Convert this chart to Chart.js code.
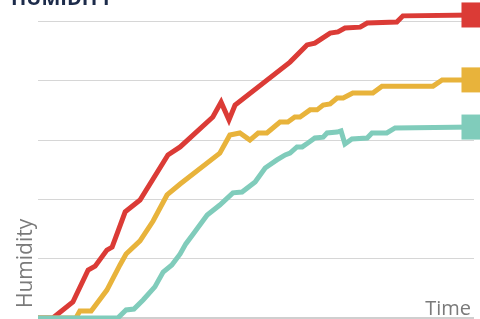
<!DOCTYPE html>
<html>
<head>
<meta charset="utf-8">
<script src="https://cdn.jsdelivr.net/npm/chart.js@4"></script>
<style>
  html, body { margin: 0; padding: 0; background: #fff; }
  #wrap { width: 480px; height: 319px; position: relative; }
</style>
</head>
<body>
<div id="wrap"><canvas id="humidity-chart"></canvas></div>
<script>
// time and humidity readings for each series
const redTime = [0, 3.4, 8.0, 11.5, 13.1, 15.8, 17.0, 20.0, 23.4, 29.8, 32.6, 40.1, 42.0, 43.8, 45.2, 57.8, 61.7, 63.5, 67.0, 68.8, 70.4, 73.9, 75.5, 82.3, 83.7, 100];
const redValues = [0, 0, 5.4, 16.2, 17.5, 22.9, 23.9, 35.8, 39.8, 55.0, 57.7, 67.8, 72.8, 66.8, 71.8, 86.3, 92.1, 92.7, 96.1, 96.5, 97.8, 98.1, 99.5, 99.8, 101.9, 102.2];

const yellowTime = [0, 8.7, 9.6, 12.2, 15.8, 18.8, 20.2, 23.4, 26.4, 29.6, 32.6, 41.7, 44.0, 46.3, 48.6, 50.5, 52.5, 55.5, 57.3, 58.9, 60.1, 62.4, 64.0, 65.4, 67.0, 68.6, 70.0, 72.2, 76.8, 78.9, 90.6, 92.7, 100];
const yellowValues = [0, 0, 2.4, 2.4, 9.4, 17.9, 21.6, 26.0, 32.7, 41.5, 45.2, 55.6, 61.7, 62.4, 60.0, 62.4, 62.4, 66.1, 66.1, 67.8, 67.8, 70.2, 70.2, 71.8, 72.2, 74.2, 74.2, 75.9, 75.9, 78.2, 78.2, 80.3, 80.3];

const tealTime = [0, 18.3, 20.2, 22.0, 24.1, 26.8, 28.7, 30.7, 32.6, 33.9, 35.6, 38.8, 41.7, 44.7, 46.8, 49.8, 52.1, 54.8, 56.7, 57.8, 59.4, 60.6, 61.9, 63.5, 65.4, 66.3, 68.6, 69.5, 70.4, 72.0, 75.5, 76.6, 80.0, 81.9, 100];
const tealValues = [0, 0, 2.7, 3.0, 6.1, 10.5, 15.5, 17.9, 21.6, 25.0, 28.3, 34.7, 38.1, 42.2, 42.5, 45.9, 50.6, 53.3, 55.0, 55.6, 57.7, 57.7, 59.0, 60.7, 61.0, 62.4, 62.7, 63.1, 58.7, 60.4, 60.7, 62.4, 62.4, 64.1, 64.4];

const yTicks = [0, 20, 40, 60, 80, 100];

const toPoints = (xs, ys) => xs.map((x, i) => ({ x: x, y: ys[i] }));

// only the last point gets the square marker
const endSquare = (c) => c.dataIndex === c.dataset.data.length - 1 ? 17.7 : 0;

function series(label, xs, ys, color, order) {
  return {
    label: label,
    data: toPoints(xs, ys),
    borderColor: color,
    backgroundColor: color,
    borderWidth: 5,
    tension: 0,
    fill: false,
    clip: false,
    order: order,
    pointStyle: "rect",
    pointRadius: endSquare,
    pointHoverRadius: endSquare,
    pointBorderWidth: 0,
    pointBackgroundColor: color,
  };
}

// texts: cut off heading, axis names
const labelsPlugin = {
  id: "labels",
  afterDraw(chart) {
    const c = chart.ctx;
    c.save();
    c.fillStyle = "#1c2b4a";
    c.font = "bold 20px 'Open Sans'";
    c.textAlign = "left";
    c.textBaseline = "alphabetic";
    c.fillText("HUMIDITY", 11, 5);

    c.fillStyle = "#7a7a7a";
    c.font = "20px 'Open Sans'";
    c.textAlign = "right";
    c.fillText("Time", 471, 315);

    c.translate(32, 308);
    c.rotate(-Math.PI / 2);
    c.textAlign = "left";
    c.font = "21px 'Open Sans'";
    c.fillText("Humidity", 0, 0);
    c.restore();
  },
};

const ctx = document.getElementById("humidity-chart");

new Chart(ctx, {
  type: "line",
  data: {
    datasets: [
      series("Red", redTime, redValues, "#db3b36", 2),
      series("Yellow", yellowTime, yellowValues, "#e8b33b", 1),
      series("Teal", tealTime, tealValues, "#80ccbb", 0),
    ],
  },
  options: {
    responsive: true,
    maintainAspectRatio: false,
    animation: false,
    layout: {
      autoPadding: false,
      padding: { left: 38, right: 6, top: 0, bottom: 1 },
    },
    plugins: {
      legend: { display: false },
      tooltip: { enabled: false },
    },
    scales: {
      x: {
        type: "linear",
        min: 0,
        max: 100,
        display: false,
      },
      y: {
        min: 0,
        max: 107.25,
        border: { display: false },
        afterBuildTicks: (axis) => {
          axis.ticks = yTicks.map((v) => ({ value: v }));
        },
        ticks: { display: false },
        grid: {
          drawTicks: false,
          color: (c) => (c.tick && c.tick.value === 0 ? "#cfcfcf" : "#d6d6d6"),
          lineWidth: (c) => (c.tick && c.tick.value === 0 ? 3 : 1),
        },
      },
    },
  },
  plugins: [labelsPlugin],
});
</script>
</body>
</html>
